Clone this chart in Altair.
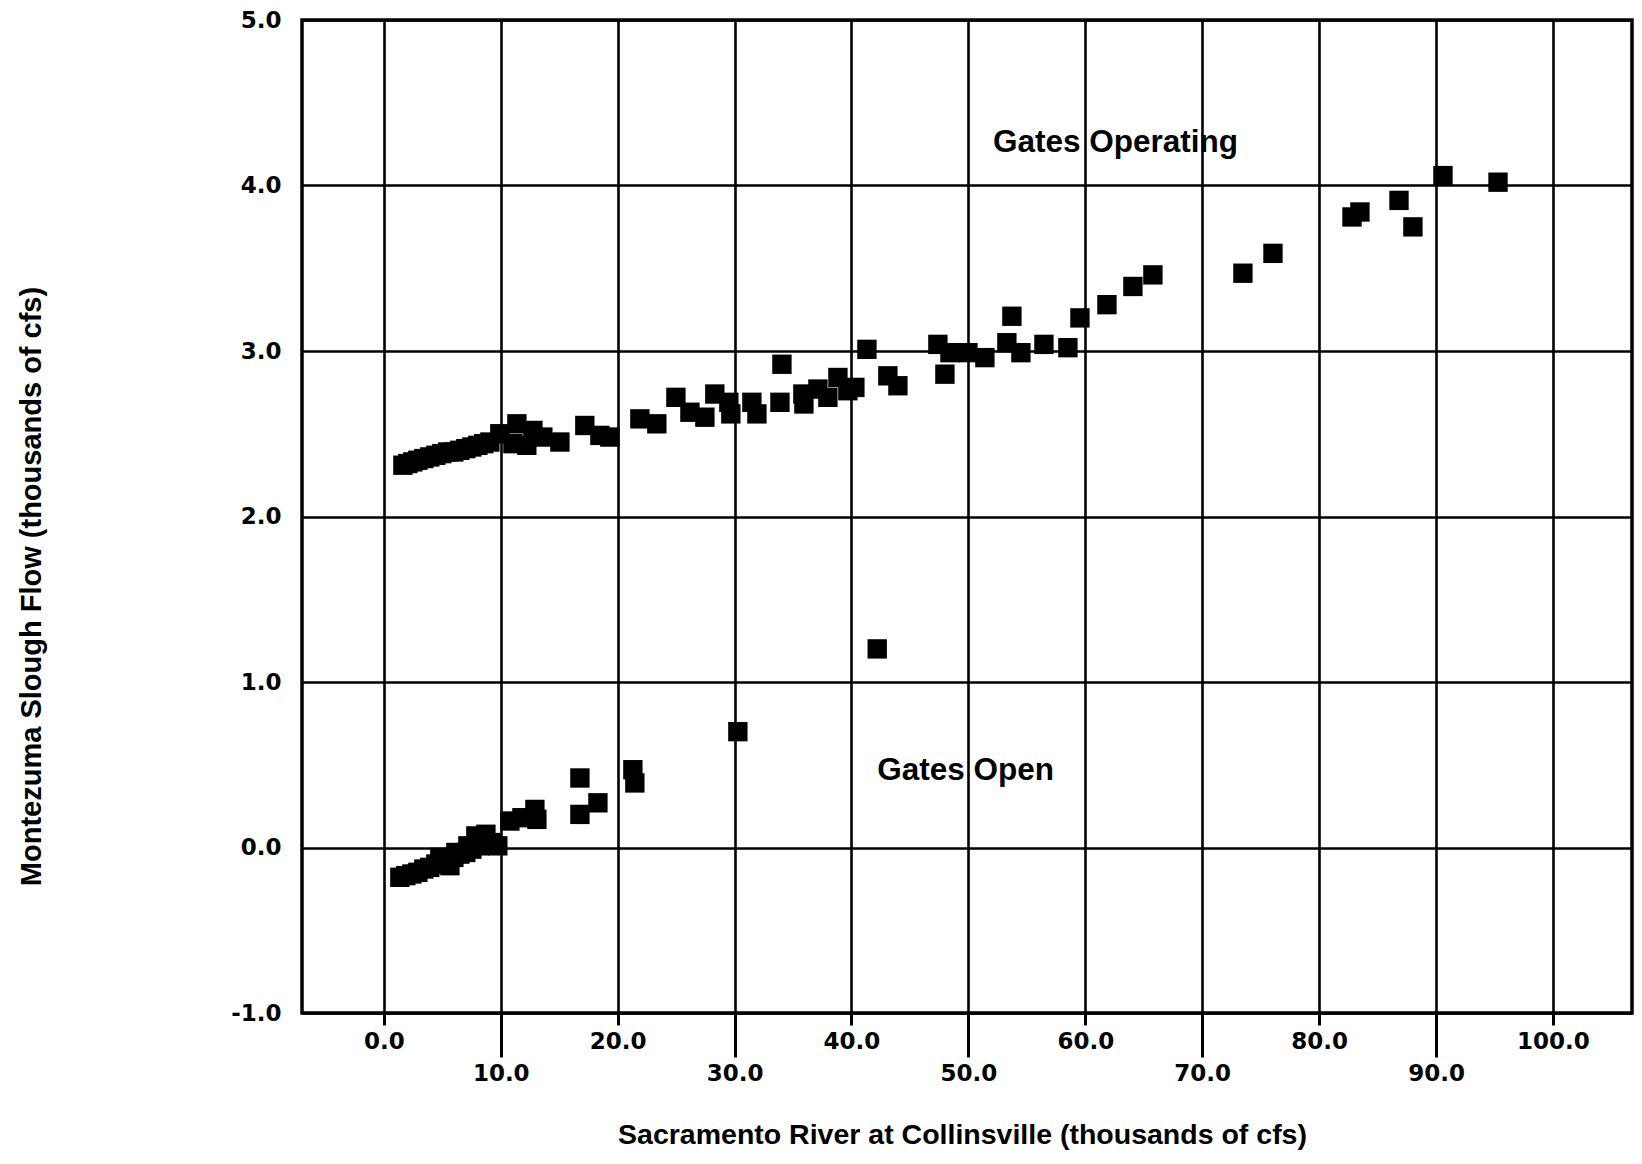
import altair as alt
import pandas as pd

# Gates Operating series (Sacramento River flow, Montezuma Slough flow), thousands of cfs
upper_x = [1.63, 2.05, 2.48, 2.91, 3.42, 3.93, 4.45, 4.96, 5.47, 5.99, 6.50, 7.01, 7.53, 8.04, 8.55, 9.07,
           9.92, 11.38, 11.04, 12.23, 12.75, 13.60, 15.06, 17.19, 18.48, 19.33, 21.90, 23.35, 24.98, 26.18,
           27.46, 28.31, 29.51, 29.68, 31.48, 31.91, 33.88, 34.05, 35.84, 35.93, 37.13, 37.98, 38.84, 39.69,
           40.29, 41.32, 43.11, 43.97, 47.39, 47.99, 48.42, 49.96, 51.41, 53.72, 53.29, 54.49, 56.46, 58.51,
           59.54, 61.85, 64.07, 65.78, 73.48, 76.05, 82.81, 83.49, 86.83, 88.02, 90.59, 95.30]
upper_y = [2.31, 2.32, 2.33, 2.34, 2.35, 2.36, 2.37, 2.38, 2.39, 2.39, 2.40, 2.41, 2.42, 2.43, 2.44, 2.45,
           2.50, 2.56, 2.44, 2.43, 2.52, 2.48, 2.45, 2.55, 2.49, 2.48, 2.59, 2.56, 2.72, 2.63,
           2.60, 2.74, 2.69, 2.62, 2.69, 2.62, 2.69, 2.92, 2.74, 2.68, 2.77, 2.72, 2.84, 2.76,
           2.78, 3.01, 2.85, 2.79, 3.04, 2.86, 2.99, 2.99, 2.96, 3.21, 3.05, 2.99, 3.04, 3.02,
           3.20, 3.28, 3.39, 3.46, 3.47, 3.59, 3.81, 3.84, 3.91, 3.75, 4.06, 4.02]

# Gates Open series
lower_x = [1.37, 1.88, 2.40, 2.91, 3.42, 3.93, 4.45, 4.96, 5.47, 5.99, 6.50, 7.01, 7.53, 7.87, 8.21, 8.73,
           9.24, 9.75, 4.79, 5.65, 6.16, 7.19, 10.78, 11.81, 12.92, 13.09, 16.77, 16.77, 18.31, 21.30,
           21.47, 30.28, 42.2]
lower_y = [-0.18, -0.17, -0.16, -0.15, -0.13, -0.12, -0.10, -0.09, -0.07, -0.06, -0.04, -0.03, -0.01, 0.07,
           0.01, 0.08, 0.03, 0.01, -0.06, -0.11, -0.03, 0.01, 0.16, 0.18, 0.23, 0.17, 0.42, 0.20, 0.27, 0.47,
           0.39, 0.70, 1.20]

# Annotations
note_text = ["Gates Operating", "Gates Open"]
note_x = [52.1, 42.2]
note_y = [4.20, 0.41]

x_ticks = [0, 10, 20, 30, 40, 50, 60, 70, 80, 90, 100]
y_ticks = [-1, 0, 1, 2, 3, 4, 5]

pts = pd.DataFrame({
    "x": upper_x + lower_x,
    "y": upper_y + lower_y,
    "series": ["Gates Operating"] * len(upper_x) + ["Gates Open"] * len(lower_x),
})
notes = pd.DataFrame({"x": note_x, "y": note_y, "text": note_text})

x_scale = alt.Scale(domain=[-7.0, 106.76], nice=False, zero=False)
y_scale = alt.Scale(domain=[-1, 5], nice=False, zero=False)

x_axis = alt.Axis(
    values=x_ticks,
    format=".1f",
    grid=True, gridColor="black", gridWidth=2.6, gridOpacity=1,
    ticks=True, tickColor="black", tickWidth=3,
    tickSize={"condition": {"test": "datum.value % 20 != 0", "value": 44}, "value": 12},
    labelPadding=5,
    labelFont="DejaVu Sans", labelFontWeight="bold", labelFontSize=23, labelColor="black",
    labelFlush=False, labelOverlap=False,
    domain=False,
    title="Sacramento River at Collinsville (thousands of cfs)",
    titleFont="Liberation Sans", titleFontWeight="bold", titleFontSize=28.5, titleColor="black",
    titleX=660, titleY=121, titleAlign="center", titleBaseline="middle",
)
y_axis = alt.Axis(
    values=y_ticks,
    labelExpr="(datum.value < 0 ? '-' : '') + format(abs(datum.value), '.1f')",
    grid=True, gridColor="black", gridWidth=2.6, gridOpacity=1,
    ticks=False, domain=False,
    labelPadding=21,
    labelFont="DejaVu Sans", labelFontWeight="bold", labelFontSize=23, labelColor="black",
    labelOverlap=False,
    title="Montezuma Slough Flow (thousands of cfs)",
    titleFont="Liberation Sans", titleFontWeight="bold", titleFontSize=29, titleColor="black",
    titleX=-271, titleY=566, titleAngle=270, titleAlign="center", titleBaseline="middle",
)

points = alt.Chart(pts).mark_point(
    shape="square", filled=True, size=375, color="black", opacity=1
).encode(
    x=alt.X("x:Q", scale=x_scale, axis=x_axis),
    y=alt.Y("y:Q", scale=y_scale, axis=y_axis),
)

labels = alt.Chart(notes).mark_text(
    align="left", baseline="alphabetic", font="Liberation Sans", fontWeight="bold",
    fontSize=31.5, color="black"
).encode(
    x=alt.X("x:Q", scale=x_scale, axis=x_axis),
    y=alt.Y("y:Q", scale=y_scale, axis=y_axis),
    text="text:N",
)

chart = alt.layer(points, labels).properties(
    width=1330, height=993,
    autosize=alt.AutoSizeParams(type="none"),
    padding={"left": 294, "top": 12, "right": 2, "bottom": 138},
    background="white",
).configure_view(stroke="black", strokeWidth=3.5)

chart.save("out.html", embed_options={"renderer": "svg", "actions": False})
